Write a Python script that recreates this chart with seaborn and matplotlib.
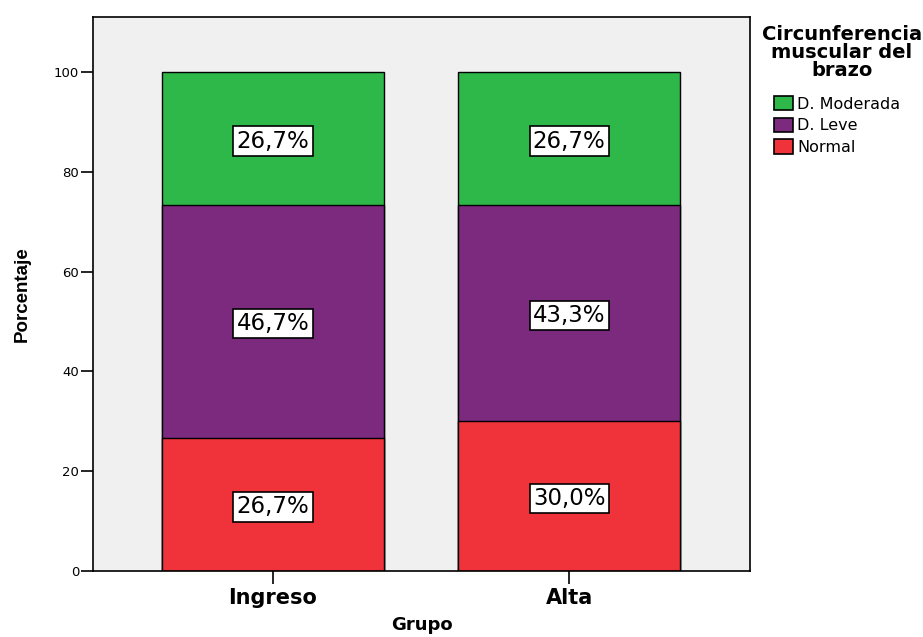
import numpy as np
import pandas as pd
import matplotlib
matplotlib.use("Agg")
import matplotlib.pyplot as plt
import seaborn as sns
from matplotlib.patches import Patch

# ---- data ----
grupos = ["Ingreso", "Alta"]
categorias = ["Normal", "D. Leve", "D. Moderada"]
normal = [26.7, 30.0]
leve = [46.7, 43.3]
moderada = [26.7, 26.7]
etiquetas = {
    "Normal": ["26,7%", "30,0%"],
    "D. Leve": ["46,7%", "43,3%"],
    "D. Moderada": ["26,7%", "26,7%"],
}
colores = {"Normal": "#f0333a", "D. Leve": "#7b2a7e", "D. Moderada": "#2fb84a"}

sns.set_theme(style="white")
plt.rcParams["font.family"] = ["DejaVu Sans"]
plt.rcParams["text.color"] = "black"
plt.rcParams["axes.labelcolor"] = "black"
plt.rcParams["xtick.color"] = "black"
plt.rcParams["ytick.color"] = "black"

fig = plt.figure(figsize=(9.23, 6.37), dpi=100)
ax = fig.add_axes([93 / 923, 66 / 637, (750 - 93) / 923, (571 - 17) / 637])
ax.set_facecolor("#f0f0f0")

vals = np.array([normal, leve, moderada])
tops = np.minimum(np.cumsum(vals, axis=0), 100.0)
bottoms = tops - vals

# draw cumulative bars from top down (stacking)
for i in reversed(range(len(categorias))):
    df = pd.DataFrame({"Grupo": grupos, "valor": tops[i]})
    sns.barplot(data=df, x="Grupo", y="valor", order=grupos, color=colores[categorias[i]],
                width=0.75, edgecolor="black", linewidth=1.0, saturation=1, ax=ax)

# labels
for i, cat in enumerate(categorias):
    for j in range(len(grupos)):
        mid = bottoms[i][j] + vals[i][j] / 2
        ax.text(j, mid - 0.5, etiquetas[cat][j], ha="center", va="center", fontsize=16.5, color="black",
                bbox=dict(boxstyle="square,pad=0.14", facecolor="white", edgecolor="black", linewidth=1.2))

ax.set_xlim(-0.608, 1.611)
ax.set_ylim(0, 111)
ax.set_yticks([0, 20, 40, 60, 80, 100])
ax.set_yticklabels(["0", "20", "40", "60", "80", "100"], fontsize=9.5)
ax.set_xticks([0, 1])
ax.set_xticklabels(grupos, fontsize=15, fontweight="bold")
ax.tick_params(axis="y", direction="out", length=9, width=1.2, color="black", left=True, pad=1)
ax.tick_params(axis="x", direction="out", length=9, width=1.2, color="black", bottom=True, pad=3)
ax.set_ylabel("Porcentaje", fontsize=13.5, fontweight="bold",
              family=["Liberation Sans", "DejaVu Sans"], labelpad=17)
ax.set_xlabel("Grupo", fontsize=13, fontweight="bold", labelpad=6)
for s in ax.spines.values():
    s.set_color("black")
    s.set_linewidth(1.2)
    s.set_visible(True)

# legend title and entries
fig.text(842 / 923, 1 - 25 / 637, "Circunferencia\nmuscular del\nbrazo", ha="center", va="top",
         fontsize=14, fontweight="bold", linespacing=0.95)
handles = [Patch(facecolor=colores[c], edgecolor="black", linewidth=1.2) for c in reversed(categorias)]
leg = fig.legend(handles, list(reversed(categorias)), loc="upper left",
                 bbox_to_anchor=(774 / 923, 1 - 96 / 637), frameon=False, fontsize=11.5,
                 handlelength=1.2, handleheight=1.0, handletextpad=0.25, labelspacing=0.38,
                 borderpad=0, borderaxespad=0)

fig.savefig("out.png", dpi=100)
